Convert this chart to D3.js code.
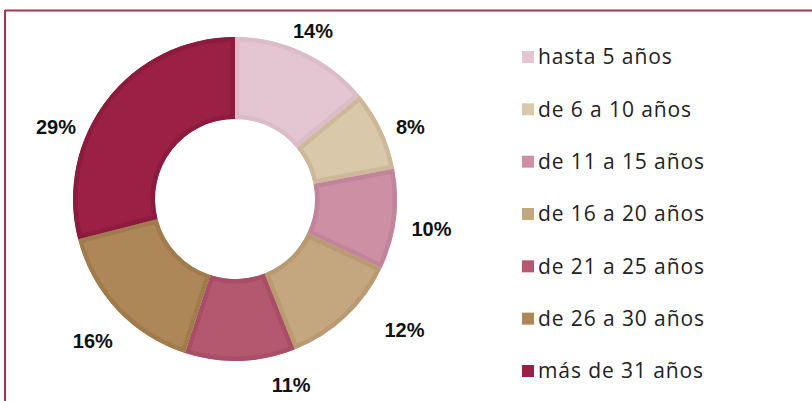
<!DOCTYPE html>
<html>
<head>
<meta charset="utf-8">
<script src="https://cdn.jsdelivr.net/npm/d3@7"></script>
<style>
  body { margin: 0; background: #fff; }
  svg { display: block; }
</style>
</head>
<body>
<div id="chart"></div>
<script>
// data
var categories = ["hasta 5 años", "de 6 a 10 años", "de 11 a 15 años", "de 16 a 20 años",
                  "de 21 a 25 años", "de 26 a 30 años", "más de 31 años"];
var values = [14, 8, 10, 12, 11, 16, 29];
var colors = ["#e3c6d1", "#d9c8aa", "#cc8fa4", "#c5a77f", "#b3586f", "#ad8757", "#9a2045"];
var edgeColors = ["#dcbcc8", "#cdb99a", "#c2849a", "#b99a72", "#a84e66", "#a07c4d", "#8d1b3e"];

var width = 812, height = 401;
var cx = 235, cy = 199, outerR = 162, innerR = 80, labelR = 195;
// hand nudges so percentage labels sit where the original put them
var labelNudge = [[-5, 8], [-1, 11], [3, 5], [36, -11], [50, -9], [0, 8], [-25, 47]];

var svg = d3.select("#chart").append("svg")
    .attr("width", width)
    .attr("height", height);

// frame lines (top and left)
svg.append("line")
    .attr("x1", 5).attr("x2", width).attr("y1", 10.5).attr("y2", 10.5)
    .attr("stroke", "#ad3150").attr("stroke-width", 2);
svg.append("line")
    .attr("x1", 5).attr("x2", 5).attr("y1", 10).attr("y2", height)
    .attr("stroke", "#ad3150").attr("stroke-width", 2);

var pie = d3.pie().sort(null).value(function(d) { return d; });
var arc = d3.arc().innerRadius(innerR).outerRadius(outerR);
var labelArc = d3.arc().innerRadius(labelR).outerRadius(labelR);

var arcs = pie(values);

var g = svg.append("g")
    .attr("transform", "translate(" + cx + "," + cy + ")");

var defs = svg.append("defs");
arcs.forEach(function(d, i) {
  defs.append("clipPath").attr("id", "clip" + i)
    .append("path").attr("d", arc(d));
});

g.selectAll("path.slice")
    .data(arcs)
    .enter().append("path")
    .attr("class", "slice")
    .attr("d", arc)
    .attr("fill", function(d, i) { return colors[i]; })
    .attr("stroke", function(d, i) { return edgeColors[i]; })
    .attr("stroke-width", 9)
    .attr("clip-path", function(d, i) { return "url(#clip" + i + ")"; });

g.selectAll("text.pct")
    .data(arcs)
    .enter().append("text")
    .attr("class", "pct")
    .attr("x", function(d, i) { return labelArc.centroid(d)[0] + labelNudge[i][0]; })
    .attr("y", function(d, i) { return labelArc.centroid(d)[1] + labelNudge[i][1]; })
    .attr("dy", "0.36em")
    .attr("text-anchor", "middle")
    .style("font-family", "'Liberation Sans', Arial, sans-serif")
    .style("font-weight", "bold")
    .style("font-size", "20px")
    .style("fill", "#111")
    .text(function(d) { return d.data + "%"; });

// legend
var legendY = d3.scalePoint().domain(categories).range([57, 371]);

var legend = svg.append("g").selectAll("g")
    .data(categories)
    .enter().append("g")
    .attr("transform", function(d) { return "translate(522," + legendY(d) + ")"; });

legend.append("rect")
    .attr("x", 0).attr("y", -6)
    .attr("width", 12).attr("height", 12)
    .attr("fill", function(d, i) { return colors[i]; });

legend.append("text")
    .attr("x", 16)
    .attr("dy", "0.35em")
    .style("font-family", "'Open Sans', sans-serif")
    .style("font-size", "21px")
    .style("letter-spacing", "0.9px")
    .style("fill", "#222")
    .text(function(d) { return d; });
</script>
</body>
</html>
